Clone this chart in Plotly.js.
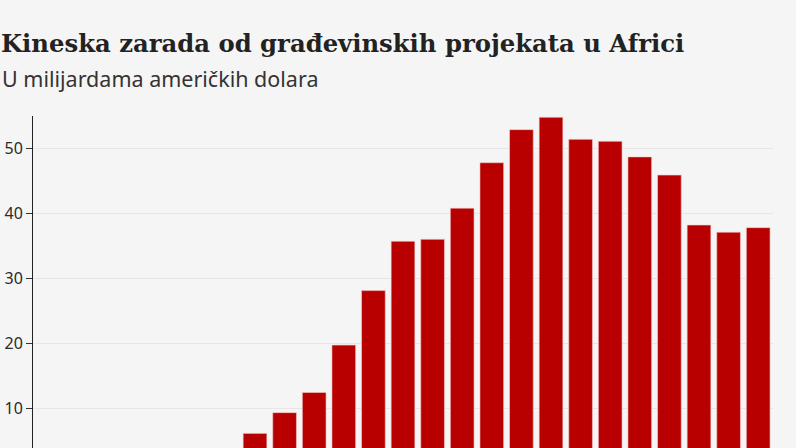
<!DOCTYPE html>
<html>
<head>
<meta charset="utf-8">
<script src="https://cdn.plot.ly/plotly-3.0.1.min.js"></script>
<style>
html,body{margin:0;padding:0;background:#f5f5f5;overflow:hidden;}
#chart{width:796px;height:448px;}
</style>
</head>
<body>
<div id="chart"></div>
<script>
const years = ["1998","1999","2000","2001","2002","2003","2004","2005","2006","2007","2008","2009","2010","2011","2012","2013","2014","2015","2016","2017","2018","2019","2020","2021","2022"];
const revenue = [0.8, 1.0, 1.1, 1.5, 1.8, 2.6, 3.7, 6.1, 9.3, 12.4, 19.7, 28.1, 35.7, 36.0, 40.8, 47.8, 52.9, 54.8, 51.4, 51.1, 48.7, 45.9, 38.2, 37.1, 37.8];
const yTicks = [10, 20, 30, 40, 50];
const titleText = "Kineska zarada od građevinskih projekata u Africi";
const subtitleText = "U milijardama američkih dolara";

const trace = {
  type: "bar",
  x: years,
  y: revenue,
  marker: {color: "#b80000", line: {color: "rgba(245,200,200,0.6)", width: 1}},
  hoverinfo: "x+y"
};

const layout = {
  width: 796,
  height: 448,
  paper_bgcolor: "#f5f5f5",
  plot_bgcolor: "#f5f5f5",
  margin: {l: 33, r: 23, t: 116, b: 0, pad: 0},
  bargap: 0.2,
  showlegend: false,
  title: {
    text: titleText,
    x: 0, xref: "container", xanchor: "left",
    y: 1 - 52/448, yref: "container", yanchor: "bottom",
    pad: {l: 1, b: 0},
    font: {family: "DejaVu Serif, serif", size: 24.3, color: "#222222", weight: "bold"}
  },
  annotations: [{
    text: subtitleText,
    xref: "paper", yref: "paper",
    x: -33/740, y: 1 + (116-95)/332,
    xanchor: "left", yanchor: "bottom",
    showarrow: false,
    font: {family: "Noto Sans, sans-serif", size: 21.5, color: "#333333"}
  }],
  xaxis: {
    showticklabels: false,
    showgrid: false,
    zeroline: false,
    ticks: "",
    fixedrange: true
  },
  yaxis: {
    range: [3.85, 55],
    tickvals: yTicks,
    ticktext: yTicks.map(String),
    ticks: "outside",
    ticklen: 6,
    tickcolor: "#333333",
    tickwidth: 1,
    showline: true,
    linecolor: "#222222",
    linewidth: 1,
    showgrid: true,
    gridcolor: "#e6e6e6",
    gridwidth: 1,
    zeroline: false,
    tickfont: {family: "Noto Sans, sans-serif", size: 16, color: "#2a2a2a"},
    fixedrange: true
  }
};

Plotly.newPlot("chart", [trace], layout, {displayModeBar: false, staticPlot: true});
</script>
</body>
</html>
